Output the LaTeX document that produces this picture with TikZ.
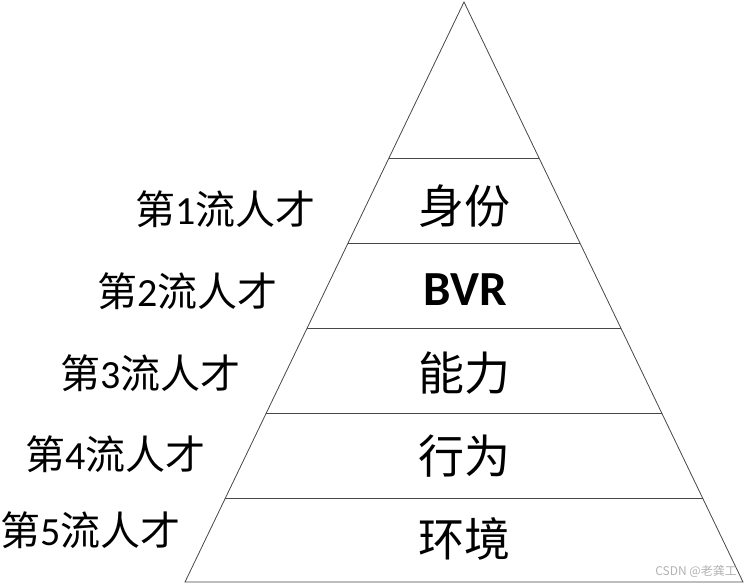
\documentclass[tikz,border=0pt]{standalone}
\usepackage{fontspec}
\setmainfont{Noto Sans CJK SC}
\newfontfamily\numfont{Carlito}

\begin{document}
\begin{tikzpicture}[x=1pt,y=1pt,yscale=-1,
	edge/.style={draw=black!72,line width=0.8pt},
	rank/.style={anchor=east,inner sep=0pt,font=\fontsize{40}{40}\selectfont},
	tier/.style={inner sep=0pt,font=\fontsize{46}{46}\selectfont}]
	\useasboundingbox (0,0) rectangle (749,584);
	%pyramid
	\coordinate (top) at (464,2);
	\coordinate (bl) at (185,582);
	\coordinate (br) at (743,582);
	%Shape: Triangle
	\draw[edge] (top) -- (br) -- (bl) -- cycle;
	%Straight Lines
	\draw[edge] (389,158) -- (539,158);
	\draw[edge] (348,243) -- (580,243);
	\draw[edge] (307,328) -- (621,328);
	\draw[edge] (266,413) -- (662,413);
	\draw[edge] (225,498) -- (703,498);
	
	% Text Node
	\draw (464,206) node[tier] (t1) {身份};
	% Text Node
	\draw (465,290) node[tier,font=\fontsize{49}{49}\selectfont\numfont\bfseries] (t2) {BVR};
	% Text Node
	\draw (464,373) node[tier] (t3) {能力};
	% Text Node
	\draw (464,456) node[tier] (t4) {行为};
	% Text Node
	\draw (464,539) node[tier] (t5) {环境};
	
	% Text Node
	\draw (316,209) node[rank] (r1) {第{\numfont 1}流人才};
	% Text Node
	\draw (278,291) node[rank] (r2) {第{\numfont 2}流人才};
	% Text Node
	\draw (241,373) node[rank] (r3) {第{\numfont 3}流人才};
	% Text Node
	\draw (206,454) node[rank] (r4) {第{\numfont 4}流人才};
	% Text Node
	\draw (181,530) node[rank] (r5) {第{\numfont 5}流人才};
	
	% watermark
	\draw (737,571) node[anchor=east,inner sep=0pt,text=black!30,font=\fontsize{12}{12}\selectfont] (wm) {CSDN @老龚工};
\end{tikzpicture}
\end{document}
